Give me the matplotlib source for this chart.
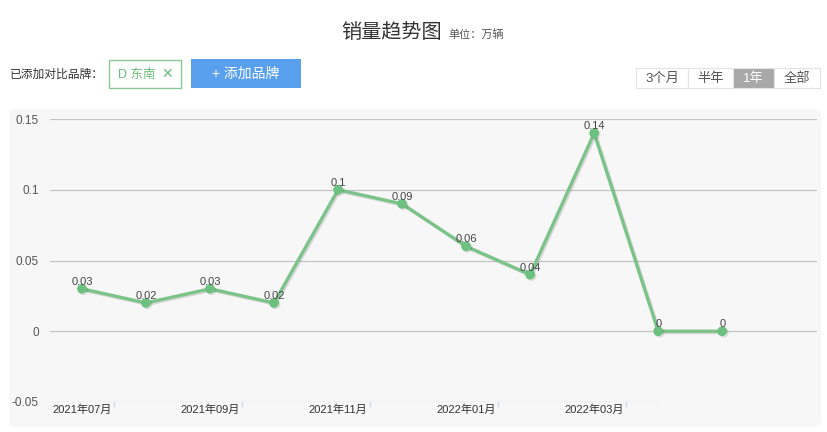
import matplotlib
matplotlib.use('Agg')
import matplotlib.pyplot as plt
import matplotlib.patheffects as pe
from matplotlib.patches import FancyBboxPatch, Rectangle

plt.rcParams['font.family'] = ['Liberation Sans', 'Noto Sans CJK SC', 'DejaVu Sans']

# data
months = ['2021年07月', '2021年08月', '2021年09月', '2021年10月', '2021年11月', '2021年12月',
          '2022年01月', '2022年02月', '2022年03月', '2022年04月', '2022年05月']
sales = [0.03, 0.02, 0.03, 0.02, 0.1, 0.09, 0.06, 0.04, 0.14, 0, 0]
yticks = [-0.05, 0, 0.05, 0.1, 0.15]
ytick_labels = ['-0.05', '0', '0.05', '0.1', '0.15']
tabs = ['3个月', '半年', '1年', '全部']
tab_edges = [636, 688, 733, 774, 820]

W, H = 827, 432
fig = plt.figure(figsize=(W / 100, H / 100), dpi=100)
fig.patch.set_facecolor('white')

# pixel overlay for the page furniture
bg = fig.add_axes([0, 0, 1, 1], zorder=0)
bg.set_xlim(0, W)
bg.set_ylim(H, 0)
bg.axis('off')

bg.add_patch(FancyBboxPatch((9, 109), 812, 318, boxstyle='round,pad=0,rounding_size=6',
                            fc='#f7f7f7', ec='none'))

bg.text(392, 32, '销量趋势图', ha='center', va='center', fontsize=14.5, color='#333333')
bg.text(448, 35, '单位：万辆', ha='left', va='center', fontsize=8, color='#555555')

bg.text(10, 75, '已添加对比品牌：', ha='left', va='center', fontsize=8.5, color='#333333')
bg.add_patch(Rectangle((109, 60), 72, 28, fc='white', ec='#8cc897', lw=1))
bg.text(118, 74.5, 'D 东南', ha='left', va='center', fontsize=9, color='#6dbb7c')
bg.text(167, 74.5, '✕', ha='center', va='center', fontsize=10, color='#6dbb7c',
        fontweight='bold', family='DejaVu Sans')
bg.add_patch(Rectangle((191, 59), 110, 29, fc='#58a0ee', ec='none'))
bg.text(246, 74, '+ 添加品牌', ha='center', va='center', fontsize=10, color='white')

for i, t in enumerate(tabs):
    x0, x1 = tab_edges[i], tab_edges[i + 1]
    active = t == '1年'
    bg.add_patch(Rectangle((x0, 68), x1 - x0, 20, fc='#a8a8a8' if active else 'white',
                           ec='#e3e3e3', lw=0.8))
    bg.text((x0 + x1) / 2, 78.5, t, ha='center', va='center', fontsize=9.5,
            color='white' if active else '#555555')

# chart
ax = fig.add_axes([50 / W, (H - 402) / H, 767 / W, 283 / H], zorder=1)
ax.patch.set_alpha(0)
for s in ax.spines.values():
    s.set_visible(False)
ax.set_ylim(-0.05, 0.15)
ax.set_xlim(-0.5, 11.48)
ax.set_yticks(yticks)
ax.set_yticklabels(ytick_labels)
ax.tick_params(axis='y', length=0, pad=8, labelsize=8.5, labelcolor='#555555')
ax.set_xticks([])
for v in yticks[1:]:
    ax.axhline(v, color='#c4c4c4', lw=0.9, zorder=1)

# x axis line, ticks and labels (the axis only reaches 2022年04月)
x_end = 9.05
ax.hlines(-0.05, -0.5, x_end, color='#ccd6eb', lw=1, zorder=2)
for i in range(0, len(months), 2):
    if i + 0.5 >= x_end:
        break
    ax.vlines(i + 0.5, -0.05, -0.0535, color='#ccd6eb', lw=1, clip_on=False)
    ax.text(i, -0.0515, months[i], ha='center', va='top', fontsize=8, color='#333333',
            clip_on=False)

x = list(range(len(sales)))
ax.plot(x, sales, color='#7cc38a', lw=2.4, marker='o', markersize=6,
        markerfacecolor='#6cc080', markeredgecolor='#6cc080', zorder=4,
        path_effects=[pe.SimpleLineShadow(offset=(1, -1), shadow_color='#000000', alpha=0.12),
                      pe.Normal()])

for xi, v in zip(x, sales):
    ax.annotate(f'{v:g}', (xi, v), xytext=(0, 1.5), textcoords='offset points',
                ha='center', va='bottom', fontsize=8, color='#444444', zorder=5)

fig.savefig('out.png', dpi=100)
